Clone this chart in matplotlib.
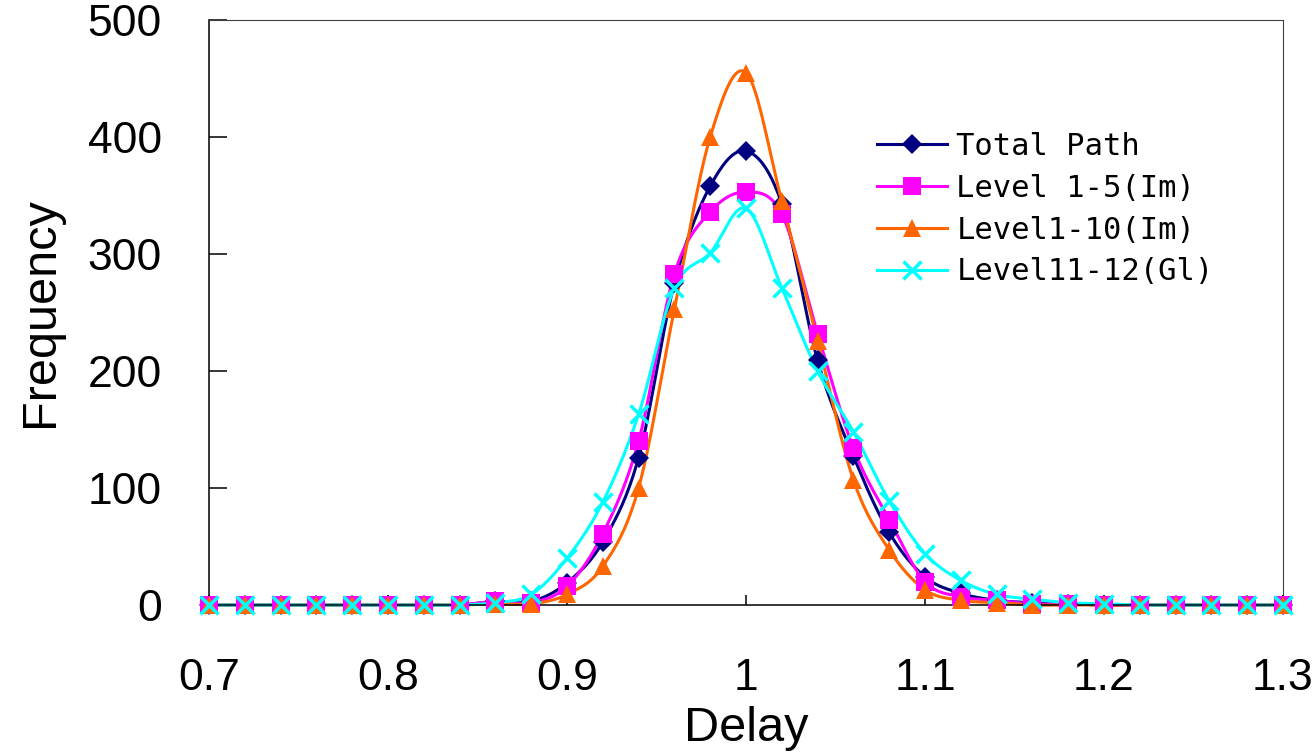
import numpy as np
import matplotlib
matplotlib.use("Agg")
import matplotlib.pyplot as plt
from matplotlib.lines import Line2D

plt.rcParams['font.family'] = ['Liberation Sans', 'DejaVu Sans']

# delay bins 0.70 .. 1.30, step 0.02
delay = [0.70, 0.72, 0.74, 0.76, 0.78, 0.80, 0.82, 0.84, 0.86, 0.88,
         0.90, 0.92, 0.94, 0.96, 0.98, 1.00, 1.02, 1.04, 1.06, 1.08,
         1.10, 1.12, 1.14, 1.16, 1.18, 1.20, 1.22, 1.24, 1.26, 1.28, 1.30]

total_path = [0, 0, 0, 0, 0, 0, 0, 0, 3, 3,
              19, 54, 126, 275, 358, 388, 343, 209, 127, 62,
              24, 10, 4, 2, 1, 0, 0, 0, 0, 0, 0]
level_1_5 = [0, 0, 0, 0, 0, 0, 0, 0, 3, 2,
             16, 61, 140, 283, 336, 353, 334, 232, 134, 73,
             20, 7, 4, 1, 1, 0, 0, 0, 0, 0, 0]
level_1_10 = [0, 0, 0, 0, 0, 0, 0, 0, 1, 1,
              9, 33, 100, 253, 400, 455, 345, 226, 107, 47,
              13, 4, 2, 0, 0, 0, 0, 0, 0, 0, 0]
level_11_12 = [0, 0, 0, 0, 0, 0, 0, 0, 2, 9,
               40, 88, 163, 271, 301, 339, 271, 200, 148, 89,
               44, 21, 9, 5, 2, 1, 0, 0, 0, 0, 0]

series = [
    ("Total Path", total_path, "#000080", "D", 10),
    ("Level 1-5(Im)", level_1_5, "#FF00FF", "s", 13),
    ("Level1-10(Im)", level_1_10, "#FF6600", "^", 13),
    ("Level11-12(Gl)", level_11_12, "#00FFFF", "x", 13),
]


def smooth(x, y, n=20):
    # Catmull-Rom style bezier through every point
    x = np.asarray(x, float)
    y = np.asarray(y, float)
    px = np.concatenate([[x[0]], x, [x[-1]]])
    py = np.concatenate([[y[0]], y, [y[-1]]])
    t = np.linspace(0, 1, n, endpoint=False)
    xs, ys = [], []
    for i in range(1, len(px) - 2):
        p0x, p1x = px[i], px[i + 1]
        p0y, p1y = py[i], py[i + 1]
        c1x = p0x + (px[i + 1] - px[i - 1]) / 6
        c1y = p0y + (py[i + 1] - py[i - 1]) / 6
        c2x = p1x - (px[i + 2] - px[i]) / 6
        c2y = p1y - (py[i + 2] - py[i]) / 6
        b0 = (1 - t) ** 3
        b1 = 3 * (1 - t) ** 2 * t
        b2 = 3 * (1 - t) * t ** 2
        b3 = t ** 3
        xs.append(b0 * p0x + b1 * c1x + b2 * c2x + b3 * p1x)
        ys.append(b0 * p0y + b1 * c1y + b2 * c2y + b3 * p1y)
    xs.append([x[-1]])
    ys.append([y[-1]])
    return np.concatenate(xs), np.concatenate(ys)


W, H = 1315, 756
fig = plt.figure(figsize=(W / 100, H / 100), dpi=100)
ax = fig.add_axes([209 / W, 1 - 605 / H, (1283 - 209) / W, (605 - 20) / H])

handles = []
for name, vals, color, marker, ms in series:
    sx, sy = smooth(delay, vals)
    ax.plot(sx, sy, color=color, lw=2.2, clip_on=False, zorder=2)
    mew = 2.5 if marker == "x" else 0
    ax.plot(delay, vals, linestyle="none", marker=marker, markersize=ms,
            color=color, markeredgewidth=mew, clip_on=False, zorder=3)
    handles.append(Line2D([], [], color=color, lw=2.2, marker=marker,
                          markersize=ms, markeredgewidth=mew, label=name))

ax.set_xlim(0.7, 1.3)
ax.set_ylim(0, 500)
ax.set_xticks(np.arange(0.7, 1.31, 0.1))
ax.set_xticklabels(["0.7", "0.8", "0.9", "1", "1.1", "1.2", "1.3"])
ax.set_yticks(np.arange(0, 501, 100))

for side in ["left", "bottom"]:
    ax.spines[side].set_linewidth(1.1)
for side in ["top", "right"]:
    ax.spines[side].set_linewidth(0.8)
    ax.spines[side].set_color("#404040")

ax.tick_params(axis="x", direction="in", length=7, width=1.1, pad=38, labelsize=32)
ax.tick_params(axis="y", direction="in", length=13, width=1.1, pad=34, labelsize=32)

ax.set_xlabel("Delay", fontsize=35, labelpad=5)
ax.set_ylabel("Frequency", fontsize=35, labelpad=18)

ax.legend(handles=handles, loc="upper left",
          bbox_to_anchor=(877 / W, 1 - 132 / H), bbox_transform=fig.transFigure,
          frameon=False, prop={"family": "DejaVu Sans Mono", "size": 22},
          handlelength=2.3, handletextpad=0.3, labelspacing=0.42,
          borderpad=0, borderaxespad=0)

fig.savefig("out.png", dpi=100)
